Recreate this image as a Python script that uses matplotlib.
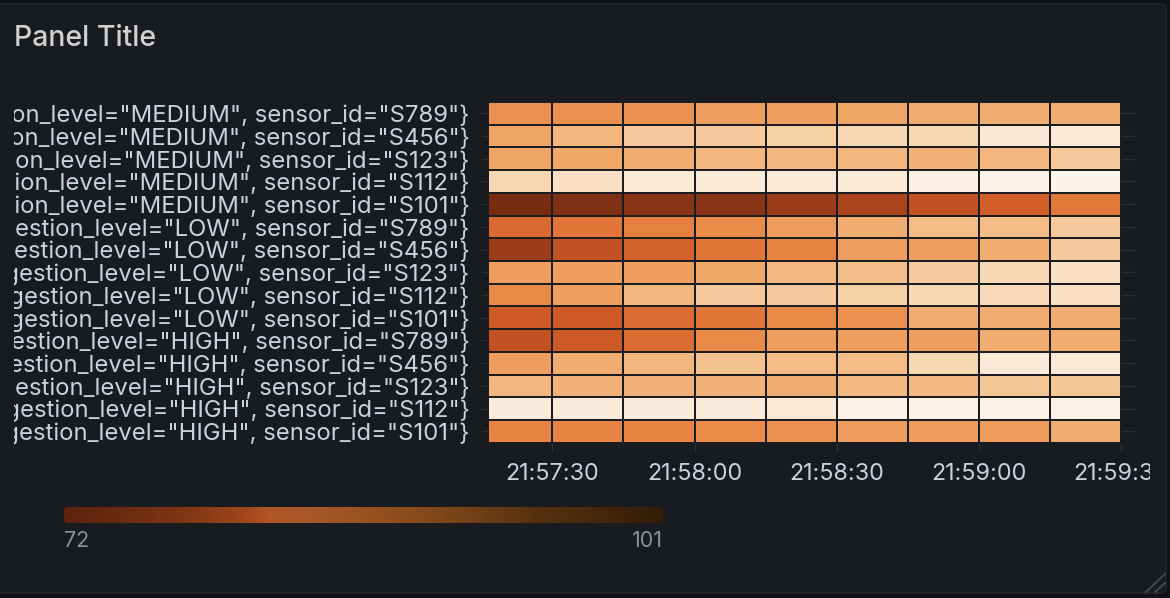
import numpy as np
import matplotlib
matplotlib.use("Agg")
import matplotlib.pyplot as plt
from matplotlib.colors import LinearSegmentedColormap
from matplotlib.patches import FancyBboxPatch
from matplotlib.lines import Line2D
from matplotlib.transforms import Bbox, TransformedBbox
from matplotlib.ticker import FuncFormatter

plt.rcParams['font.family'] = ['Inter', 'DejaVu Sans']

# series, bottom row first (grafana draws first series at the bottom)
levels = ["HIGH", "LOW", "MEDIUM"]
sensors = ["S101", "S112", "S123", "S456", "S789"]

# bucket end times (seconds after 21:57:00), first bucket is cut by the time range
range_from = 16.3
bucket_ends = [30, 45, 60, 75, 90, 105, 120, 135, 150]
tick_times = [30, 60, 90, 120, 150]

high_s101 = [85.2, 85.2, 85.2, 86.3, 86.9, 88.1, 88.1, 88.1, 89.9]
high_s112 = [98.9, 98.9, 98.9, 98.9, 98.6, 100.7, 100.7, 100.7, 100.7]
high_s123 = [91.1, 90.8, 90.8, 90.8, 90.2, 91.4, 91.4, 92.9, 92.9]
high_s456 = [88.1, 90.2, 91.1, 92.3, 91.7, 91.7, 95.0, 98.3, 98.3]
high_s789 = [78.9, 79.8, 81.9, 86.1, 88.4, 88.4, 88.4, 90.2, 90.2]
low_s101 = [79.8, 79.8, 81.9, 83.1, 86.1, 86.9, 90.2, 90.2, 90.2]
low_s112 = [86.1, 88.4, 91.1, 93.2, 93.2, 94.1, 95.3, 95.6, 96.5]
low_s123 = [88.1, 88.1, 88.1, 89.6, 91.4, 92.0, 93.5, 95.3, 96.5]
low_s456 = [75.6, 78.9, 80.7, 83.1, 85.2, 88.4, 88.4, 90.2, 93.2]
low_s789 = [81.6, 83.1, 84.6, 86.3, 88.1, 90.2, 91.7, 91.7, 93.2]
med_s101 = [72.0, 72.9, 73.8, 73.8, 75.6, 76.8, 78.9, 80.4, 83.4]
med_s112 = [95.0, 96.5, 98.3, 98.6, 98.6, 98.6, 100.1, 101.0, 101.0]
med_s123 = [89.3, 89.6, 90.2, 91.1, 91.1, 91.1, 90.8, 91.1, 93.2]
med_s456 = [89.3, 91.1, 93.2, 93.2, 94.1, 95.0, 95.0, 98.0, 98.6]
med_s789 = [86.9, 86.9, 86.9, 88.4, 88.4, 89.3, 90.2, 90.2, 90.2]

vals = np.array([high_s101, high_s112, high_s123, high_s456, high_s789,
                 low_s101, low_s112, low_s123, low_s456, low_s789,
                 med_s101, med_s112, med_s123, med_s456, med_s789])
row_labels = ['{congestion_level="%s", sensor_id="%s"}' % (l, s)
              for l in levels for s in sensors]

# colours
BG = "#181b1f"
OUTER = "#111217"
GRID = "#2c2e34"
TXT = "#d0d0dc"
cell_cmap = LinearSegmentedColormap.from_list("orng", [
    (0.0, "#772c12"), (0.12, "#9c3c1a"), (0.23, "#c05022"), (0.28, "#d05c28"),
    (0.37, "#e07436"), (0.50, "#ea8c4a"), (0.55, "#ee9c5c"), (0.61, "#f0a86a"),
    (0.71, "#f4c492"), (0.77, "#f6d2a8"), (0.88, "#fae6d0"), (1.0, "#fcf3e9")])
legend_cmap = LinearSegmentedColormap.from_list("leg", [
    (0.0, "#5e220e"), (0.12, "#6e2e10"), (0.22, "#853915"), (0.30, "#a0461b"),
    (0.34, "#b05526"), (0.42, "#a8572a"), (0.50, "#9a5222"), (0.60, "#864a1c"),
    (0.70, "#6e3e15"), (0.80, "#55300f"), (0.90, "#44270c"), (1.0, "#331c08")])

W, H = 1170, 598
fig = plt.figure(figsize=(W / 100, H / 100), dpi=100, facecolor=OUTER)

def fx(px):
    return px / W

def fy(py):
    return 1 - py / H

# panel box
fig.patches.append(FancyBboxPatch((fx(-10), fy(593)), fx(1176), (593 - 4) / H,
                                  boxstyle="round,pad=0,rounding_size=0.006",
                                  transform=fig.transFigure, fc=BG, ec="#26282d", lw=1,
                                  zorder=-10))

fig.text(fx(14), fy(38), "Panel Title", fontsize=20.5, fontweight="medium",
         color="#d2d0cc", ha="left", va="center")

ax = fig.add_axes([fx(487.5), fy(442.7), fx(1121 - 487.5), (442.7 - 102) / H])
ax.set_facecolor("none")
for s in ax.spines.values():
    s.set_visible(False)

x_edges = [range_from] + bucket_ends
y_edges = np.arange(len(row_labels) + 1) - 0.5
ax.pcolormesh(x_edges, y_edges, vals, cmap=cell_cmap, vmin=vals.min(), vmax=vals.max(),
              edgecolors="#1c1d20", linewidth=1.4)
ax.set_xlim(range_from, bucket_ends[-1])
ax.set_ylim(-0.5, len(row_labels) - 0.5)

def hms(s, pos=None):
    t = 21 * 3600 + 57 * 60 + int(round(s))
    return "%02d:%02d:%02d" % (t // 3600, t // 60 % 60, t % 60)

ax.set_xticks(tick_times)
ax.xaxis.set_major_formatter(FuncFormatter(hms))
ax.tick_params(axis="x", length=6.5, width=1, color=GRID, labelcolor=TXT,
               labelsize=16.8, pad=8)

ax.set_yticks(range(len(row_labels)))
ax.set_yticklabels(row_labels)
ax.set_yticks(range(len(row_labels)), minor=True)
ax.yaxis.remove_overlapping_locs = False
ax.tick_params(axis="y", which="major", left=True, right=False, length=5, width=1,
               color=GRID, labelcolor=TXT, labelsize=17.2, pad=8)
ax.tick_params(axis="y", which="minor", left=False, right=True, length=10, width=1,
               color=GRID)

clip_left = TransformedBbox(Bbox([[fx(14), 0], [1, 1]]), fig.transFigure)
for lab in ax.get_yticklabels():
    lab.set_clip_box(clip_left)
    lab.set_clip_on(True)
clip_right = TransformedBbox(Bbox([[0, 0], [fx(1150), 1]]), fig.transFigure)
for lab in ax.get_xticklabels():
    lab.set_clip_box(clip_right)
    lab.set_clip_on(True)

# colour scale legend
lax = fig.add_axes([fx(64), fy(523), fx(663 - 64), (523 - 507) / H])
lax.axis("off")
im = lax.imshow(np.linspace(0, 1, 512)[None, :], aspect="auto", cmap=legend_cmap,
                extent=[0, 1, 0, 1])
rnd = FancyBboxPatch((0, 0), 1, 1, boxstyle="round,pad=0,rounding_size=0.006",
                     mutation_aspect=(663 - 64) / 16, transform=lax.transAxes,
                     fc="none", ec="none")
lax.add_patch(rnd)
im.set_clip_path(rnd)
fig.text(fx(64), fy(541), "%.0f" % vals.min(), fontsize=15.5, color="#8e8e96",
         ha="left", va="center")
fig.text(fx(663), fy(541), "%.0f" % vals.max(), fontsize=15.5, color="#8e8e96",
         ha="right", va="center")

# resize handle
fig.add_artist(Line2D([fx(1146), fx(1165)], [fy(592), fy(574)], color="#4a4b50",
                      lw=1.3, transform=fig.transFigure))
fig.add_artist(Line2D([fx(1155), fx(1165)], [fy(592), fy(583)], color="#4a4b50",
                      lw=1.3, transform=fig.transFigure))

fig.savefig("out.png", dpi=100, facecolor=OUTER)
